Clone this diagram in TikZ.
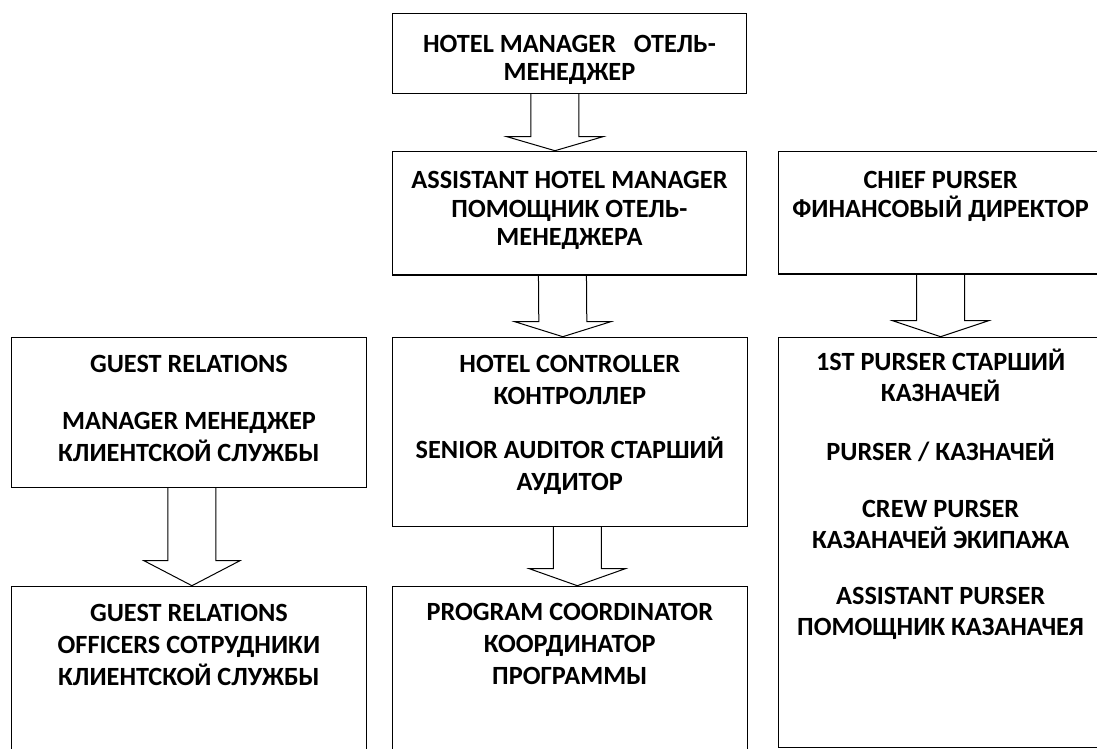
\documentclass[tikz,border=0pt]{standalone}
\usepackage{fontspec}
\setmainfont{Carlito}
\usepackage{tikz}
\usetikzlibrary{calc}

\newcommand{\boxtext}[4][35]{\parbox[c][#3pt][t]{#2pt}{\centering\rule{0pt}{#1pt}#4}}
\newcommand{\hollowarrow}[4]{%
  \draw[blockarrow] ([xshift=#3pt-24pt]#1.south) -- ([xshift=#3pt-24pt,yshift=#4pt]#2.north)
    -- ([xshift=#3pt-48pt,yshift=#4pt]#2.north) -- ([xshift=#3pt]#2.north)
    -- ([xshift=#3pt+48pt,yshift=#4pt]#2.north) -- ([xshift=#3pt+24pt,yshift=#4pt]#2.north)
    -- ([xshift=#3pt+24pt]#1.south);}

\begin{document}
\begin{tikzpicture}[x=1pt, y=-1pt, unitbox/.style={draw, line width=1.2pt, inner sep=0pt, anchor=north west, font=\bfseries\fontsize{26.3}{32}\selectfont}, tightbox/.style={unitbox, font=\bfseries\fontsize{26.3}{28.3}\selectfont}]
            \useasboundingbox (0,0) rectangle (1097,749);
            \clip (0,0) rectangle (1097,749);

            \node[tightbox] (HM) at (391.7,13.3) {\boxtext[38.4]{354.3}{79.4}{HOTEL MANAGER\ \ \ ОТЕЛЬ-\\МЕНЕДЖЕР}};
            \node[tightbox] (AHM) at (391.7,150.7) {\boxtext[37.6]{354.3}{123.6}{ASSISTANT HOTEL MANAGER\\ПОМОЩНИК ОТЕЛЬ-\\МЕНЕДЖЕРА}};
            \node[tightbox] (CP) at (777.5,151) {\boxtext[37.3]{325}{122.3}{CHIEF PURSER\\ФИНАНСОВЫЙ ДИРЕКТОР}};
            \node[unitbox] (GR) at (11,336.7) {\boxtext{354.7}{150}{GUEST RELATIONS\\[25pt]MANAGER МЕНЕДЖЕР\\КЛИЕНТСКОЙ СЛУЖБЫ}};
            \node[unitbox] (HC) at (391.7,336.7) {\boxtext{355}{189.3}{HOTEL CONTROLLER\\КОНТРОЛЛЕР\\[22pt]SENIOR AUDITOR СТАРШИЙ\\АУДИТОР}};
            \node[unitbox, font=\bfseries\fontsize{26.3}{31}\selectfont] (FP) at (777.5,336.7) {\boxtext[33.5]{325}{410}{1ST PURSER СТАРШИЙ\\КАЗНАЧЕЙ\\[28pt]PURSER / КАЗНАЧЕЙ\\[26pt]CREW PURSER\\КАЗАНАЧЕЙ ЭКИПАЖА\\[25pt]ASSISTANT PURSER\\ПОМОЩНИК КАЗАНАЧЕЯ}};
            \node[unitbox] (GRO) at (11,585.7) {\boxtext{354.7}{200}{GUEST RELATIONS\\OFFICERS СОТРУДНИКИ\\КЛИЕНТСКОЙ СЛУЖБЫ}};
            \node[unitbox] (PC) at (391.7,585.7) {\boxtext[34.5]{355}{200}{PROGRAM COORDINATOR\\КООРДИНАТОР\\ПРОГРАММЫ}};

            \tikzset{blockarrow/.style={draw, line width=1pt, line join=miter}}

            \hollowarrow{HM}{AHM}{-14.5}{14}
            \hollowarrow{AHM}{HC}{-7}{15}
            \hollowarrow{HC}{PC}{7.5}{17}
            \hollowarrow{CP}{FP}{0}{16}
            \hollowarrow{GR}{GRO}{3}{25}

        \end{tikzpicture}
\end{document}
